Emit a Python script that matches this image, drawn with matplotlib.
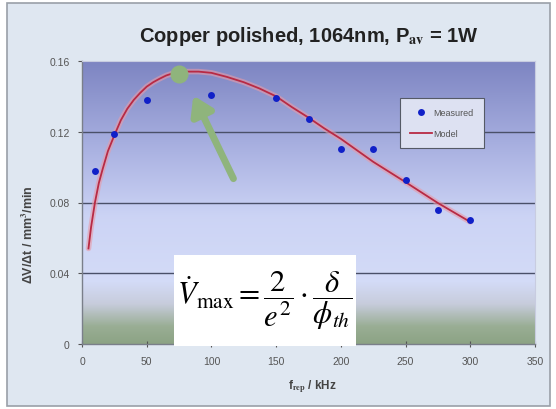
import numpy as np
import matplotlib.pyplot as plt
from matplotlib.colors import LinearSegmentedColormap
from matplotlib.patches import Rectangle

plt.rcParams['font.family'] = ['Liberation Sans', 'DejaVu Sans']
plt.rcParams['mathtext.fontset'] = 'stix'

# measured removal rate
freq_meas = [10, 25, 50, 100, 150, 175, 200, 225, 250, 275, 300]
rate_meas = [0.098, 0.119, 0.138, 0.141, 0.139, 0.127, 0.110, 0.110, 0.093, 0.076, 0.070]

# model curve
freq_model = [5, 7, 10, 13, 16, 20, 25, 30, 35, 40, 45, 50, 55, 60, 65, 70, 75, 80, 90,
              100, 112, 125, 137, 150, 162, 175, 187, 200, 225, 250, 275, 300]
rate_model = [0.054, 0.066, 0.080, 0.091, 0.099, 0.109, 0.118, 0.1265, 0.133, 0.138, 0.142, 0.1455,
              0.148, 0.150, 0.1518, 0.153, 0.1537, 0.154, 0.154, 0.1533, 0.151, 0.148,
              0.1445, 0.140, 0.134, 0.128, 0.122, 0.116, 0.103, 0.0915, 0.0797, 0.069]

y_ticks = [0, 0.04, 0.08, 0.12, 0.16]
y_ticklabels = ['0', '0.04', '0.08', '0.12', '0.16']
x_ticks = [0, 50, 100, 150, 200, 250, 300, 350]

peak = (75, 0.1525)
arrow_tip = (86, 0.1405)
arrow_tail = (117, 0.0935)

fig = plt.figure(figsize=(5.56, 4.10), dpi=100)
fig.patch.set_facecolor('white')
fig.patches.append(Rectangle((7/556, 3/410), 543/556, 403/410, transform=fig.transFigure,
                             facecolor='#dfe7f1', edgecolor='#9aa0a8', linewidth=1.2, zorder=-10))

ax = fig.add_axes([82/556, 1 - 345/410, 453/556, 283/410])

# gradient background of the plot area
stops = [(0.0, (0.55, 0.64, 0.52)), (0.06, (0.60, 0.68, 0.58)), (0.14, (0.78, 0.80, 0.86)),
         (0.22, (0.83, 0.86, 0.97)), (0.45, (0.80, 0.83, 0.96)), (0.7, (0.66, 0.69, 0.88)),
         (1.0, (0.49, 0.52, 0.76))]
cmap = LinearSegmentedColormap.from_list('bg', stops)
grad = np.linspace(0, 1, 256).reshape(-1, 1)
ax.imshow(grad, cmap=cmap, origin='lower', extent=[0, 350, 0, 0.16], aspect='auto', zorder=0)

for yv in y_ticks[1:4]:
    ax.axhline(yv, color='#4a5068', linewidth=1.0, zorder=1)

ax.plot(freq_model, rate_model, color='#e89aa8', linewidth=4, alpha=0.6, zorder=2,
        solid_capstyle='round')
model_line, = ax.plot(freq_model, rate_model, color='#b82a44', linewidth=1.3, zorder=3)
meas_pts, = ax.plot(freq_meas, rate_meas, 'o', color='#1020c8', markersize=5,
                    markeredgewidth=0, zorder=4)

# highlighted maximum and arrow
ax.plot(*peak, 'o', color='#8fb47c', markersize=13, markeredgewidth=0, zorder=5)
ax.annotate('', xy=arrow_tip, xytext=arrow_tail,
            arrowprops=dict(arrowstyle='-|>,head_width=0.7,head_length=1.1', color='#8fb47c',
                            linewidth=5, shrinkA=0, shrinkB=0), zorder=5)

ax.set_xlim(0, 350)
ax.set_ylim(0, 0.16)
ax.set_xticks(x_ticks)
ax.set_xticklabels([str(v) for v in x_ticks])
ax.set_yticks(y_ticks)
ax.set_yticklabels(y_ticklabels)
ax.tick_params(axis='both', labelsize=7.5, colors='#555555', length=3, width=0.8, pad=6)
ax.tick_params(axis='x', direction='inout', length=5)
for side in ['top', 'right']:
    ax.spines[side].set_color('#c8cce0')
    ax.spines[side].set_linewidth(0.8)
for side in ['left', 'bottom']:
    ax.spines[side].set_color('#7a7f8a')
    ax.spines[side].set_linewidth(1.0)

leg = ax.legend([meas_pts, model_line], ['Measured', 'Model'],
                loc='upper left', bbox_to_anchor=(318/453, 1 - 37/283), fontsize=6.5,
                frameon=True, fancybox=False, borderpad=1.1, labelspacing=1.3,
                handlelength=2.4, handletextpad=0.2, borderaxespad=0)
leg.get_frame().set_facecolor('#dde1f2')
leg.get_frame().set_edgecolor('#555a66')
leg.get_frame().set_linewidth(0.8)
leg.get_frame().set_alpha(1)
for t in leg.get_texts():
    t.set_color('#555555')

fig.text(309/556, 1 - 36/410, r'Copper polished, 1064nm, P$_{\mathbf{av}}$ = 1W',
         ha='center', va='center', fontsize=14.5, fontweight='bold', color='#222222')
fig.text(312/556, 1 - 387/410, r'f$_{\mathbf{rep}}$ / kHz', ha='center', va='center',
         fontsize=8.5, fontweight='bold', color='#444444')
fig.text(28/556, 1 - 235/410, r'ΔV/Δt / mm$^{\mathbf{3}}$/min', ha='center', va='center',
         rotation=90, fontsize=9, fontweight='bold', color='#444444')

# formula box
fig.patches.append(Rectangle((174/556, 1 - 347/410), 182/556, 91/410, transform=fig.transFigure,
                             facecolor='white', edgecolor='none', zorder=10))
fig.text(265/556, 1 - 301/410, r'$\dot{V}_{\max} = \dfrac{2}{e^2}\cdot\dfrac{\delta}{\phi_{th}}$',
         ha='center', va='center', fontsize=22, color='black', zorder=11)

fig.savefig('out.png', dpi=100)
